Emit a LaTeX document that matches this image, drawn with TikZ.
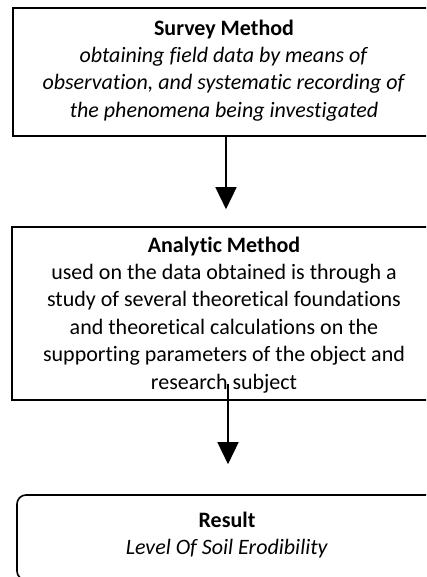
\documentclass[tikz,border=0pt]{standalone}
\usepackage{fontspec}
\setmainfont{Carlito}[Ligatures=NoCommon]
\usetikzlibrary{arrows.meta}
\begin{document}
\begin{tikzpicture}[x=1pt,y=1pt,
  boxstyle/.style={draw=black,line width=1.6pt,inner sep=0pt},
  txt/.style={inner sep=0pt,align=center,font=\fontsize{22}{27.4}\selectfont,anchor=north},
  arr/.style={line width=1.5pt,-{Triangle[width=21pt,length=22pt]}}]
\useasboundingbox (0,0) rectangle (426,-577);
\clip (0,0) rectangle (426,-577);
% boxes
\node[boxstyle,minimum width=426pt,minimum height=128pt] (b1) at (226,-72) {};
\node[boxstyle,minimum width=428pt,minimum height=173pt] (b2) at (226,-313.5) {};
\node[boxstyle,rounded corners=9pt,minimum width=418pt,minimum height=85pt] (b3) at (226,-537.5) {};
% texts
\node[txt] (t1) at (224,-19.5) {\textbf{Survey Method}\\ \textit{obtaining field data by means of}\\ \textit{observation, and systematic recording of}\\ \textit{the phenomena being investigated}};
\node[txt] (t2) at (224,-236.5) {\textbf{Analytic Method}\\ used on the data obtained is through a\\ study of several theoretical foundations\\ and theoretical calculations on the\\ supporting parameters of the object and\\ research subject};
\node[txt] (t3) at (227,-511.5) {\textbf{Result}\\ \textit{Level Of Soil Erodibility}};
% connectors
\draw[arr] (b1.south) -- ([yshift=17pt]b2.north);
\draw[arr] ([xshift=2pt,yshift=17pt]b2.south) -- ([xshift=2pt,yshift=30pt]b3.north);
\end{tikzpicture}
\end{document}
